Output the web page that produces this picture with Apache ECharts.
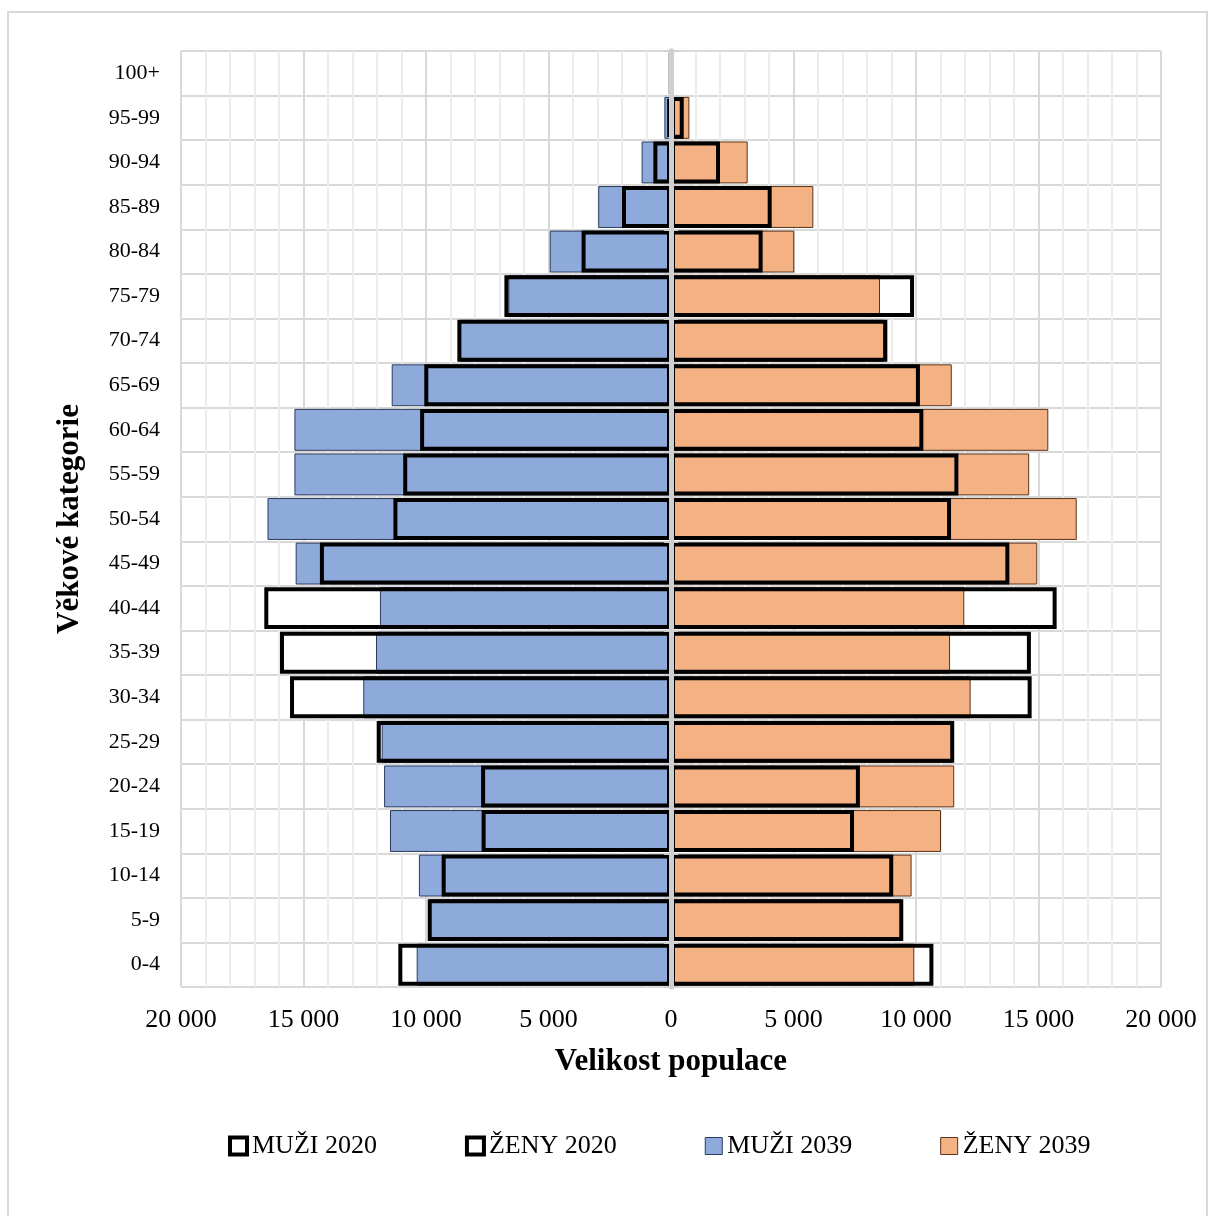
<!DOCTYPE html>
<html>
<head>
<meta charset="utf-8">
<script src="https://cdn.jsdelivr.net/npm/echarts@6/dist/echarts.min.js"></script>
<style>
  html, body { margin: 0; padding: 0; background: #fff; }
  #chart { width: 1208px; height: 1216px; }
</style>
</head>
<body>
<div id="chart"></div>
<script>
// age groups, bottom to top
const categories = ['0-4', '5-9', '10-14', '15-19', '20-24', '25-29', '30-34', '35-39', '40-44', '45-49',
  '50-54', '55-59', '60-64', '65-69', '70-74', '75-79', '80-84', '85-89', '90-94', '95-99', '100+'];

// population counts (men drawn to the left)
const muzi2020 = [11130, 9930, 9360, 7730, 7750, 12010, 15550, 15960, 16600, 14330,
  11330, 10930, 10240, 10070, 8720, 6800, 3650, 2000, 720, 150, 20];
const zeny2020 = [10710, 9480, 9070, 7470, 7710, 11560, 14720, 14690, 15740, 13810,
  11430, 11730, 10300, 10160, 8830, 9920, 3740, 4110, 2000, 520, 80];
const muzi2039 = [10380, 9840, 10290, 11470, 11710, 11810, 12560, 12040, 11880, 15320,
  16470, 15370, 15370, 11400, 8610, 6640, 4950, 2970, 1200, 270, 30];
const zeny2039 = [9930, 9410, 9820, 11020, 11560, 11500, 12230, 11390, 11970, 14950,
  16560, 14620, 15400, 11460, 8700, 8530, 5030, 5810, 3130, 750, 100];

const xTicks = { min: -20000, max: 20000, step: 5000 };

const FONT = "'Liberation Serif', 'Times New Roman', serif";
const BLUE = '#8eaadb';
const ORANGE = '#f4b183';
const AXIS_GREY = '#cfcfcf';

const neg = arr => arr.map(v => -v);
const fmt = v => String(Math.abs(v)).replace(/\B(?=(\d{3})+(?!\d))/g, ' ');

const barBase = { type: 'bar', barGap: '-100%', barCategoryGap: '6%' };

// 2020 drawn twice: white fill underneath, black outline on top
const fill2020 = (name, data) => Object.assign({}, barBase, {
  name: name + ' (podklad)',
  data: data,
  itemStyle: { color: '#fff' },
  emphasis: { disabled: true }
});
const outline2020 = (name, data) => Object.assign({}, barBase, {
  name: name,
  data: data,
  itemStyle: { color: 'rgba(0,0,0,0)', borderColor: '#000', borderWidth: 4 },
  emphasis: { disabled: true }
});
const solid2039 = (name, data, color, border) => Object.assign({}, barBase, {
  name: name,
  data: data,
  itemStyle: { color: color, borderColor: border, borderWidth: 1 },
  emphasis: { disabled: true }
});

// axis sitting on x = 0, only line + ticks
const zeroAxis = inside => ({
  type: 'category',
  data: categories,
  position: 'left',
  z: 10,
  axisLine: { show: true, onZero: true, onZeroAxisIndex: 0, lineStyle: { color: AXIS_GREY, width: 5 } },
  axisTick: { show: true, inside: inside, length: 7, lineStyle: { color: AXIS_GREY, width: 2 } },
  axisLabel: { show: false },
  splitLine: { show: false }
});

const chart = echarts.init(document.getElementById('chart'));

chart.setOption({
  animation: false,
  textStyle: { fontFamily: FONT },
  graphic: [{
    type: 'rect',
    shape: { x: 8, y: 12, width: 1199, height: 1210 },
    style: { fill: 'none', stroke: '#d9d9d9', lineWidth: 2 },
    silent: true
  }],
  grid: { left: 181, right: 47, top: 51, bottom: 229, containLabel: false },
  legend: {
    left: 223,
    top: 1128,
    itemGap: 88,
    itemWidth: 17,
    itemHeight: 17,
    icon: 'rect',
    textStyle: { fontFamily: FONT, fontSize: 26, color: '#000' },
    data: [
      { name: 'MUŽI 2020', itemStyle: { color: '#fff', borderColor: '#000', borderWidth: 4 } },
      { name: 'ŽENY 2020', itemStyle: { color: '#fff', borderColor: '#000', borderWidth: 4 } },
      { name: 'MUŽI 2039', itemStyle: { color: BLUE, borderColor: '#2b3a5e', borderWidth: 1 } },
      { name: 'ŽENY 2039', itemStyle: { color: ORANGE, borderColor: '#5a3418', borderWidth: 1 } }
    ]
  },
  xAxis: {
    type: 'value',
    min: xTicks.min,
    max: xTicks.max,
    interval: xTicks.step,
    name: 'Velikost populace',
    nameLocation: 'middle',
    nameGap: 59,
    nameTextStyle: { fontFamily: FONT, fontSize: 31, fontWeight: 'bold', color: '#000' },
    axisLine: { show: false },
    axisTick: { show: false },
    axisLabel: { fontFamily: FONT, fontSize: 26, color: '#000', margin: 20, formatter: fmt },
    splitLine: { show: true, lineStyle: { color: '#d9d9d9', width: 2 } },
    minorTick: { show: false, splitNumber: 5 },
    minorSplitLine: { show: true, lineStyle: { color: '#ececec', width: 2 } }
  },
  yAxis: [{
    type: 'category',
    data: categories,
    name: 'Věkové kategorie',
    nameLocation: 'middle',
    nameRotate: 90,
    nameGap: 96,
    nameTextStyle: { fontFamily: FONT, fontSize: 31, fontWeight: 'bold', color: '#000' },
    axisLine: { show: false, onZero: false },
    axisTick: { show: false },
    axisLabel: { fontFamily: FONT, fontSize: 22, color: '#000', margin: 21 },
    splitLine: { show: true, lineStyle: { color: '#d9d9d9', width: 2 } }
  }, zeroAxis(false), zeroAxis(true)],
  series: [
    fill2020('MUŽI 2020', neg(muzi2020)),
    fill2020('ŽENY 2020', zeny2020),
    solid2039('MUŽI 2039', neg(muzi2039), BLUE, '#2b3a5e'),
    solid2039('ŽENY 2039', zeny2039, ORANGE, '#5a3418'),
    outline2020('MUŽI 2020', neg(muzi2020)),
    outline2020('ŽENY 2020', zeny2020)
  ]
});
</script>
</body>
</html>
